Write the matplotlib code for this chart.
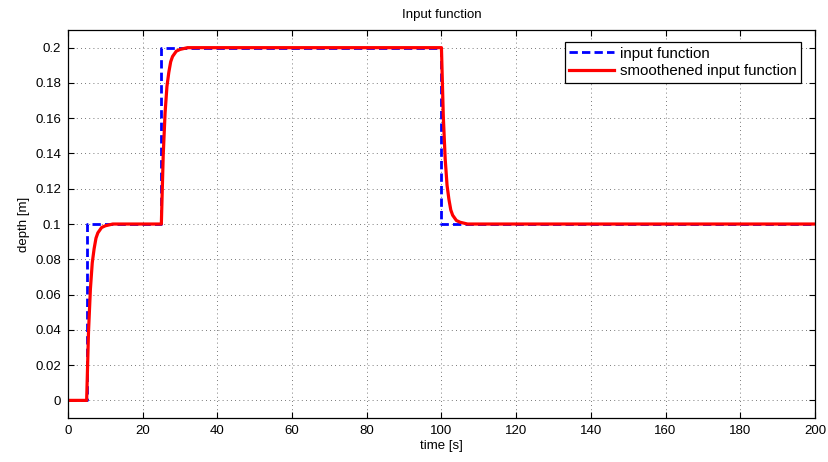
import numpy as np
import matplotlib
matplotlib.use("Agg")
import matplotlib.pyplot as plt

# step input (time [s], depth [m])
t_input = [0, 5, 5, 25, 25, 100, 100, 200]
d_input = [0, 0, 0.1, 0.1, 0.2, 0.2, 0.1, 0.1]

# smoothed input
t_smooth = [0, 5, 5.5, 6, 6.5, 7, 7.5, 8, 9, 10, 12,
            25, 25.5, 26, 26.5, 27, 27.5, 28, 29, 30, 32,
            100, 100.5, 101, 101.5, 102, 102.5, 103, 104, 105, 107, 200]
d_smooth = [0, 0, 0.039, 0.063, 0.078, 0.086, 0.092, 0.095, 0.098, 0.099, 0.1,
            0.1, 0.139, 0.163, 0.178, 0.186, 0.192, 0.195, 0.198, 0.199, 0.2,
            0.2, 0.161, 0.137, 0.122, 0.114, 0.108, 0.105, 0.102, 0.101, 0.1, 0.1]

x_ticks = list(range(0, 201, 20))
y_ticks = [0, 0.02, 0.04, 0.06, 0.08, 0.1, 0.12, 0.14, 0.16, 0.18, 0.2]
y_labels = ["0", "0.02", "0.04", "0.06", "0.08", "0.1", "0.12", "0.14", "0.16", "0.18", "0.2"]

plt.rcParams['font.family'] = ['Liberation Sans', 'DejaVu Sans']
plt.rcParams['font.size'] = 9

fig = plt.figure(figsize=(8.29, 4.62), dpi=100)
ax = fig.add_axes([0.082, 0.0952, 0.901, 0.8398])

ax.plot(t_input, d_input, color="blue", linestyle=(0, (3, 1.5)), linewidth=2, label="input function")
ax.plot(t_smooth, d_smooth, color="red", linewidth=2.3, label="smoothened input function")

ax.set_xlim(0, 200)
ax.set_ylim(-0.01, 0.21)
ax.set_xticks(x_ticks)
ax.set_yticks(y_ticks)
ax.set_yticklabels(y_labels)
ax.tick_params(direction="in", top=True, right=True, length=4, width=0.8, pad=5, labelsize=9.5)
ax.grid(True, color="black", linestyle=(0, (1, 4)), linewidth=0.6, alpha=0.7)
for s in ax.spines.values():
    s.set_linewidth(0.9)

ax.set_xlabel("time [s]", labelpad=2, fontsize=9.5)
ax.set_ylabel("depth [m]", labelpad=4, fontsize=9.5)
ax.set_title("Input function", pad=9, fontsize=9.5)

leg = ax.legend(loc="upper right", fancybox=False, framealpha=1, edgecolor="black",
                borderpad=0.3, handlelength=3.0, handletextpad=0.4, labelspacing=0.25,
                fontsize=10.8, bbox_to_anchor=(0.992, 0.988))
leg.get_frame().set_linewidth(0.9)

plt.savefig("out.png", dpi=100)
plt.close(fig)
